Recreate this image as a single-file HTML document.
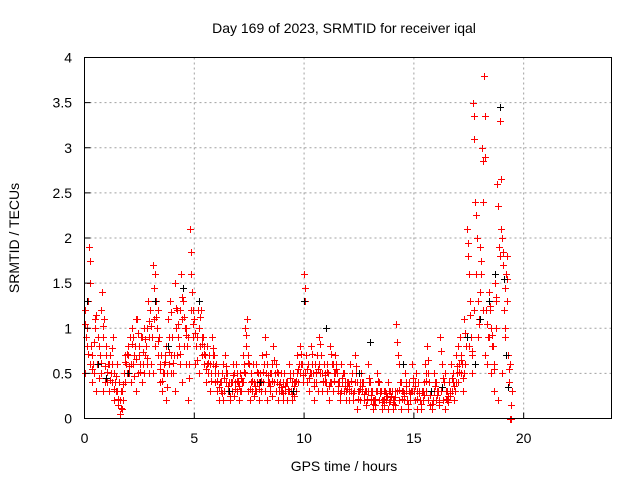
<!DOCTYPE html>
<html><head><meta charset="utf-8">
<style>
body{margin:0;background:#fff;}
svg{display:block;font-family:"Liberation Sans",sans-serif;}
</style></head>
<body>
<svg id="chart" width="640" height="480" viewBox="0 0 640 480">
<text x="344" y="33" font-size="14" text-anchor="middle">Day 169 of 2023, SRMTID for receiver iqal</text>
<text x="344" y="471" font-size="14" text-anchor="middle">GPS time / hours</text>
<text transform="translate(19,238) rotate(-90)" font-size="14" text-anchor="middle">SRMTID / TECUs</text>
<g id="grid"></g>
<g id="marks"></g>
<rect x="84.5" y="57.5" width="527" height="361" fill="none" stroke="#000" stroke-width="1"/>
<g id="axes"></g>
</svg>
<script>
const xTicks=[0,5,10,15,20];
const yTicks=[0,0.5,1,1.5,2,2.5,3,3.5,4];
const yTickLabels=["0","0.5","1","1.5","2","2.5","3","3.5","4"];
const seriesA=[1.2,1.0,1.9,0.8,0.6,1.1,0.9,0.7,1.4,1.1,0.8,0.6,0.5,0.9,0.4,0.3,0.2,0.1,0.5,0.6,0.7,0.6,0.9,0.8,1.1,0.7,0.9,1.0,0.8,1.3,1.2,1.7,1.6,1.0,0.9,0.7,0.6,0.8,1.1,1.3,0.9,1.5,1.2,0.8,1.6,1.3,1.0,0.9,2.1,1.4,1.1,0.8,1.0,1.2,0.9,0.7,0.8,0.6,0.9,0.7,0.6,0.5,0.4,0.6,0.7,0.5,0.3,0.4,0.5,0.6,0.4,0.5,0.7,1.0,1.1,0.6,0.5,0.4,0.6,0.5,0.5,0.7,0.9,0.6,0.4,0.5,0.8,0.6,0.5,0.4,0.3,0.5,0.4,0.6,0.3,0.5,0.4,0.7,0.8,0.6,1.6,0.7,0.6,0.8,0.5,0.6,0.7,0.9,0.5,0.6,0.4,0.5,0.8,0.6,0.7,0.5,0.4,0.6,0.5,0.3,0.4,0.6,0.5,0.7,0.4,0.3,0.5,0.4,0.3,0.6,0.4,0.3,0.2,0.5,0.4,0.3,0.2,0.3,0.4,0.3,0.3,0.2,1.05,0.6,0.4,0.3,0.5,0.2,0.4,0.6,0.3,0.5,0.4,0.2,0.3,0.6,0.8,0.4,0.3,0.5,0.4,0.3,0.9,0.6,0.5,0.3,0.4,0.6,0.5,0.7,0.8,0.9,0.6,1.1,2.1,1.6,0.9,3.5,2.4,1.3,1.9,3.0,3.8,1.2,1.4,1.0,0.8,1.5,2.6,3.3,2.0,1.2,1.6,0.7,0.0];
const seriesB=[0.5,0.8,0.6,0.4,0.5,0.3,0.6,0.5,0.3,0.4,0.4,0.3,0.6,0.2,0.3,0.15,0.05,0.3,0.4,0.5,0.5,0.4,0.6,0.3,0.5,0.6,0.4,0.5,0.6,0.5,0.6,0.5,0.8,0.7,0.4,0.3,0.5,0.2,0.6,0.5,0.5,0.3,0.7,0.6,0.4,0.8,0.6,0.2,1.2,0.9,0.6,0.9,0.5,0.7,0.6,0.4,0.5,0.3,0.6,0.4,0.3,0.2,0.3,0.2,0.4,0.3,0.2,0.3,0.25,0.3,0.2,0.3,0.4,0.5,0.3,0.2,0.3,0.25,0.3,0.2,0.3,0.4,0.3,0.2,0.3,0.25,0.4,0.3,0.2,0.3,0.2,0.3,0.2,0.3,0.2,0.25,0.3,0.4,0.5,0.4,0.5,0.4,0.3,0.5,0.2,0.4,0.3,0.5,0.3,0.4,0.3,0.2,0.4,0.3,0.5,0.3,0.2,0.4,0.3,0.2,0.2,0.3,0.2,0.4,0.1,0.2,0.3,0.2,0.15,0.3,0.2,0.1,0.15,0.3,0.2,0.1,0.15,0.2,0.1,0.2,0.1,0.15,0.3,0.2,0.1,0.2,0.3,0.1,0.2,0.3,0.2,0.1,0.3,0.1,0.2,0.3,0.2,0.15,0.1,0.3,0.2,0.15,0.3,0.2,0.1,0.2,0.25,0.3,0.2,0.4,0.4,0.5,0.3,0.6,0.9,0.8,0.5,1.2,1.6,0.9,1.4,1.2,0.7,0.6,0.9,0.5,0.3,1.0,0.2,1.8,0.5,0.9,1.3,0.4,0.0];
const seriesC=[0.9,1.3,1.5,0.7,1.0,0.6,0.8,1.2,0.9,0.7,0.6,0.7,0.4,0.5,0.6,0.4,0.3,0.2,0.7,0.8,0.9,1.0,0.7,1.1,0.8,0.9,0.6,0.7,1.0,0.9,0.9,1.1,1.3,1.2,0.6,0.5,0.7,0.5,0.9,0.7,0.7,1.0,0.9,1.2,1.1,1.0,0.8,0.6,1.6,1.2,0.8,1.2,0.8,0.9,0.8,0.6,0.7,0.5,0.7,0.5,0.5,0.4,0.5,0.3,0.5,0.4,0.4,0.6,0.4,0.5,0.3,0.4,0.6,0.8,0.7,0.4,0.6,0.3,0.4,0.4,0.4,0.6,0.5,0.4,0.5,0.6,0.5,0.4,0.3,0.5,0.4,0.4,0.3,0.5,0.4,0.4,0.5,0.6,0.6,0.5,1.3,0.6,0.5,0.6,0.4,0.5,0.6,0.7,0.4,0.5,0.6,0.4,0.6,0.5,0.6,0.4,0.3,0.5,0.4,0.4,0.3,0.5,0.3,0.5,0.3,0.4,0.4,0.3,0.2,0.4,0.3,0.2,0.3,0.4,0.3,0.2,0.3,0.25,0.3,0.25,0.2,0.3,0.7,0.4,0.3,0.25,0.4,0.3,0.3,0.4,0.4,0.3,0.2,0.3,0.4,0.5,0.5,0.3,0.2,0.4,0.3,0.2,0.6,0.4,0.3,0.25,0.3,0.4,0.3,0.5,0.6,0.7,0.5,0.8,1.8,1.3,0.7,3.1,2.0,1.1,1.6,2.4,2.9,0.9,1.2,0.8,0.6,1.3,1.9,2.1,1.7,1.0,1.8,0.6,0.3];
const seriesD=[1.05,0.72,1.75,0.55,0.85,1.15,0.45,0.62,1.02,0.58,0.52,0.43,0.78,0.33,0.47,0.22,0.12,0.38,0.63,0.72,0.58,0.83,0.47,0.66,0.95,0.52,0.74,0.88,0.67,1.08,1.02,1.45,1.12,0.86,0.55,0.42,0.63,0.35,0.74,1.18,0.62,1.22,1.05,0.72,1.35,1.12,0.92,0.45,1.85,1.05,0.95,0.65,1.12,0.82,0.72,0.55,0.62,0.42,0.78,0.58,0.42,0.35,0.28,0.45,0.58,0.36,0.25,0.48,0.33,0.42,0.36,0.45,0.52,0.92,0.62,0.33,0.42,0.36,0.52,0.33,0.42,0.52,0.72,0.48,0.36,0.42,0.65,0.52,0.38,0.35,0.28,0.36,0.33,0.45,0.27,0.36,0.42,0.55,0.72,0.48,1.45,0.55,0.45,0.72,0.36,0.52,0.55,0.82,0.42,0.48,0.52,0.36,0.72,0.42,0.55,0.36,0.28,0.45,0.36,0.33,0.36,0.42,0.28,0.58,0.22,0.33,0.36,0.27,0.22,0.45,0.26,0.16,0.22,0.42,0.28,0.18,0.22,0.28,0.18,0.24,0.16,0.24,0.85,0.32,0.22,0.28,0.36,0.16,0.28,0.45,0.36,0.22,0.28,0.16,0.26,0.42,0.65,0.26,0.16,0.36,0.26,0.18,0.75,0.45,0.22,0.18,0.28,0.45,0.36,0.58,0.52,0.65,0.45,0.95,1.95,1.15,0.75,3.35,2.25,1.05,1.75,2.85,3.35,1.05,1.25,0.92,0.55,1.35,2.35,2.65,1.85,1.45,1.55,0.55,0.15];
const blackTimes=[0.1,0.6,1.0,2.0,3.2,3.8,4.5,5.2,6.6,8.0,9.5,10.0,11.0,12.5,13.0,14.5,15.8,16.3,17.4,17.8,18.0,18.4,18.7,18.9,19.1,19.2,19.3];
const blackValues=[1.3,0.6,0.45,0.5,1.3,0.8,1.45,1.3,0.3,0.4,0.3,1.3,1.0,0.5,0.85,0.6,0.3,0.35,0.9,0.6,1.1,1.3,1.6,3.45,1.55,0.7,0.35];
const timeStep=0.1;

const NS="http://www.w3.org/2000/svg";
const L=84.5,R=611.5,T=57.5,B=418.5;
const xs=t=>L+t/24*(R-L);
const ys=v=>B-v/4*(B-T);
function mk(tag,attrs,parent){const e=document.createElementNS(NS,tag);for(const k in attrs)e.setAttribute(k,attrs[k]);parent.appendChild(e);return e;}
const grid=document.getElementById('grid'),axes=document.getElementById('axes'),marks=document.getElementById('marks');
xTicks.forEach((t,i)=>{
  if(t>0){const g=mk('line',{x1:xs(t),x2:xs(t),y1:T,y2:B,stroke:'#a0a0a0','stroke-dasharray':'2,3'},grid);
  
  }
  const tk=mk('line',{x1:xs(t),x2:xs(t),y1:B,y2:B-6,stroke:'#000'},axes);
  
  
  const tx=mk('text',{x:xs(t),y:443,'font-size':14,'text-anchor':'middle'},axes);
  tx.textContent=String(t);
  
  
});
yTicks.forEach((v,i)=>{
  if(v>0){const g=mk('line',{x1:L,x2:R,y1:ys(v),y2:ys(v),stroke:'#a0a0a0','stroke-dasharray':'2,3'},grid);
  
  }
  const tk=mk('line',{x1:L,x2:L+6,y1:ys(v),y2:ys(v),stroke:'#000'},axes);
  
  
  const tx=mk('text',{x:72,y:ys(v)+5,'font-size':14,'text-anchor':'end'},axes);
  tx.textContent=yTickLabels[i];
  
  
});
function plus(t,v,color){
  const x=Math.round(xs(t))+0.5,y=Math.round(ys(v))+0.5;
  const p=mk('path',{d:`M${x-3.5},${y}H${x+3.5}M${x},${y-3.5}V${y+3.5}`,stroke:color,'stroke-width':1,fill:'none'},marks);
  
  
}
seriesA.forEach((v,i)=>plus(i*timeStep,v,'#f00'));
seriesB.forEach((v,i)=>plus(i*timeStep+0.03,v,'#f00'));
seriesC.forEach((v,i)=>plus(i*timeStep+0.06,v,'#f00'));
seriesD.forEach((v,i)=>plus(i*timeStep+0.045,v,'#f00'));
blackTimes.forEach((t,i)=>plus(t,blackValues[i],'#000'));
</script>
</body></html>
